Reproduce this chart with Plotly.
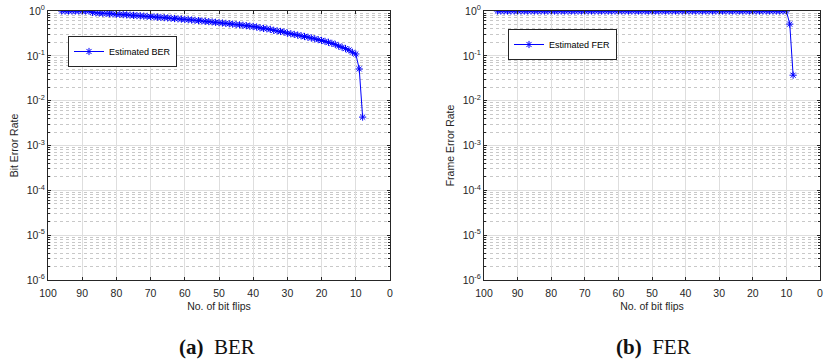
import plotly.graph_objects as go

flips = list(range(96, 7, -1))  # 96 .. 8

ber = [1.0, 1.0, 1.0, 1.0, 1.0, 1.0, 1.0, 1.0, 1.0,          # 96-88
       0.93, 0.91, 0.90, 0.89, 0.88, 0.87, 0.86, 0.85, 0.84, 0.83,  # 87-78
       0.82, 0.81, 0.80, 0.79, 0.78, 0.77, 0.76, 0.75, 0.74, 0.73,  # 77-68
       0.72, 0.71, 0.70, 0.69, 0.68, 0.67, 0.66, 0.65, 0.64, 0.63,  # 67-58
       0.62, 0.61, 0.60, 0.59, 0.58, 0.57, 0.56, 0.55, 0.54, 0.53,  # 57-48
       0.52, 0.51, 0.50, 0.49, 0.48, 0.47, 0.46, 0.45, 0.44, 0.42,  # 47-38
       0.41, 0.40, 0.39, 0.37, 0.36, 0.35, 0.34, 0.32, 0.31, 0.30,  # 37-28
       0.29, 0.28, 0.27, 0.26, 0.25, 0.24, 0.23, 0.22, 0.21, 0.20,  # 27-18
       0.19, 0.18, 0.165, 0.155, 0.145, 0.135, 0.12, 0.11,         # 17-10
       0.051, 0.0043]                                              # 9-8

fer = [1.0] * 87 + [0.51, 0.037]   # 96..10 at 1.0, then 9, 8

x_ticks = list(range(0, 101, 10))
y_tickvals = [1e-6, 1e-5, 1e-4, 1e-3, 1e-2, 1e-1, 1]
y_ticktext = ["10<sup>-6</sup>", "10<sup>-5</sup>", "10<sup>-4</sup>", "10<sup>-3</sup>",
              "10<sup>-2</sup>", "10<sup>-1</sup>", "10<sup>0</sup>"]

W, H = 825, 363
def px(v): return v / W
def py(v): return 1 - v / H

blue = "rgb(0,0,255)"
axcol = "#262626"
font_fam = "Liberation Sans, Arial, sans-serif"

fig = go.Figure()
fig.add_trace(go.Scatter(
    x=flips, y=ber, mode="lines+markers", name="Estimated BER",
    line=dict(color=blue, width=1),
    marker=dict(symbol="asterisk-open", size=6, color=blue, line=dict(color=blue, width=1)),
    xaxis="x", yaxis="y", legend="legend"))
fig.add_trace(go.Scatter(
    x=flips, y=fer, mode="lines+markers", name="Estimated FER",
    line=dict(color=blue, width=1),
    marker=dict(symbol="asterisk-open", size=6, color=blue, line=dict(color=blue, width=1)),
    xaxis="x2", yaxis="y2", legend="legend2"))

def xax(domain, anchor):
    return dict(domain=domain, anchor=anchor, range=[100, 0], tickvals=x_ticks,
                ticks="inside", ticklen=3, tickcolor=axcol, showline=True, linecolor=axcol,
                linewidth=1, mirror="ticks", showgrid=True, gridcolor="#dedede", gridwidth=1,
                zeroline=False, automargin=False, ticklabelstandoff=3,
                tickfont=dict(size=10.5, color=axcol, family=font_fam),
                title=dict(text="No. of bit flips", standoff=5,
                           font=dict(size=10.5, color=axcol, family=font_fam)))

def yax(anchor, title):
    return dict(domain=[py(280), py(11)], anchor=anchor, type="log", range=[-6, 0],
                tickvals=y_tickvals, ticktext=y_ticktext,
                ticks="inside", ticklen=3, tickcolor=axcol, showline=True, linecolor=axcol,
                linewidth=1, mirror="ticks", showgrid=True, gridcolor="#dedede", gridwidth=1,
                zeroline=False, automargin=False,
                tickfont=dict(size=10.5, color=axcol, family=font_fam),
                minor=dict(dtick="D1", ticks="inside", ticklen=2, tickcolor=axcol,
                           showgrid=True, griddash="dot", gridcolor="#c8c8c8", gridwidth=1),
                title=dict(text=title, standoff=6,
                           font=dict(size=10.5, color=axcol, family=font_fam)))

fig.update_layout(
    width=W, height=H, margin=dict(l=0, r=0, t=0, b=0, autoexpand=False),
    paper_bgcolor="white", plot_bgcolor="white",
    xaxis=xax([px(48), px(390)], "y"),
    yaxis=yax("x", "Bit Error Rate"),
    xaxis2=xax([px(484), px(820)], "y2"),
    yaxis2=yax("x2", "Frame Error Rate"),
    legend=dict(x=px(68), y=py(36), xanchor="left", yanchor="top",
                bgcolor="white", bordercolor=axcol, borderwidth=1,
                font=dict(size=9, color="#000", family=font_fam),
                tracegroupgap=0, itemwidth=30),
    legend2=dict(x=px(508), y=py(29), xanchor="left", yanchor="top",
                 bgcolor="white", bordercolor=axcol, borderwidth=1,
                 font=dict(size=9, color="#000", family=font_fam),
                 tracegroupgap=0, itemwidth=30),
    showlegend=True,
    annotations=[
        dict(text="<b>(a)</b>&nbsp; BER", x=px(217), y=py(347), xref="paper", yref="paper",
             xanchor="center", yanchor="middle", showarrow=False,
             font=dict(size=21, color="#111", family="Liberation Serif, serif")),
        dict(text="<b>(b)</b>&nbsp; FER", x=px(653), y=py(347), xref="paper", yref="paper",
             xanchor="center", yanchor="middle", showarrow=False,
             font=dict(size=21, color="#111", family="Liberation Serif, serif")),
    ],
)

fig.write_html("out.html")
